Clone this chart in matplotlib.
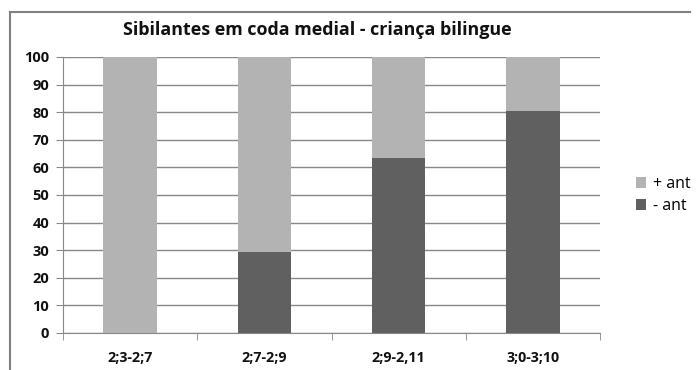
import matplotlib
matplotlib.use("Agg")
from matplotlib import pyplot as plt
from matplotlib.lines import Line2D
import numpy as np

# dados
faixas = ["2;3-2;7", "2;7-2;9", "2;9-2,11", "3;0-3;10"]
menos_ant = [0, 29.3, 63.3, 80.3]
mais_ant = [100, 70.7, 36.7, 19.7]
yticks = list(range(0, 101, 10))

plt.rcParams['font.family'] = ['Open Sans', 'DejaVu Sans']

fig = plt.figure(figsize=(6.97, 3.70), dpi=100)
ax = fig.add_axes([63/697, 37/370, 537/697, 276/370])

x = np.arange(len(faixas))
b1 = ax.bar(x, menos_ant, width=0.4, color='#606060', label='- ant', zorder=3)
b2 = ax.bar(x, mais_ant, width=0.4, bottom=menos_ant, color='#b3b3b3',
            label='+ ant', zorder=3)

ax.set_xlim(-0.5, len(faixas) - 0.5)
ax.set_ylim(0, 100)
ax.set_yticks(yticks)
ax.set_yticklabels([str(v) for v in yticks], fontsize=10.5, fontweight='bold',
                   color='#111111')
ax.yaxis.grid(True, color='#888888', linewidth=1, zorder=0)
ax.set_axisbelow(True)

ax.set_xticks(x)
ax.set_xticklabels(faixas, fontsize=10.3, fontweight='bold', color='#111111')
ax.tick_params(axis='x', length=0, pad=13)
ax.set_xticks(np.arange(-0.5, len(faixas)), minor=True)
ax.tick_params(axis='x', which='minor', length=5, color='#888888')
ax.tick_params(axis='y', length=5, color='#888888', pad=5)

for s in ['top', 'right']:
    ax.spines[s].set_visible(False)
for s in ['left', 'bottom']:
    ax.spines[s].set_color('#888888')

fig.text(317/697, 1 - 30/370, "Sibilantes em coda medial - criança bilingue",
         ha='center', va='center', fontsize=12.9, fontweight='bold',
         color='#111111')

ax.legend(handles=[b2, b1], loc='center left', bbox_to_anchor=(1.04, 0.5),
          frameon=False, fontsize=11.5, handlelength=0.65, handleheight=0.65,
          handletextpad=0.4, labelspacing=0.4)

# moldura
fig.add_artist(Line2D([10/697, 10/697], [0, 1 - 12/370],
                      transform=fig.transFigure, color='#808080', lw=1.5))
fig.add_artist(Line2D([10/697, 690/697], [1 - 12/370, 1 - 12/370],
                      transform=fig.transFigure, color='#808080', lw=1.5))

fig.savefig("out.png", dpi=100)
